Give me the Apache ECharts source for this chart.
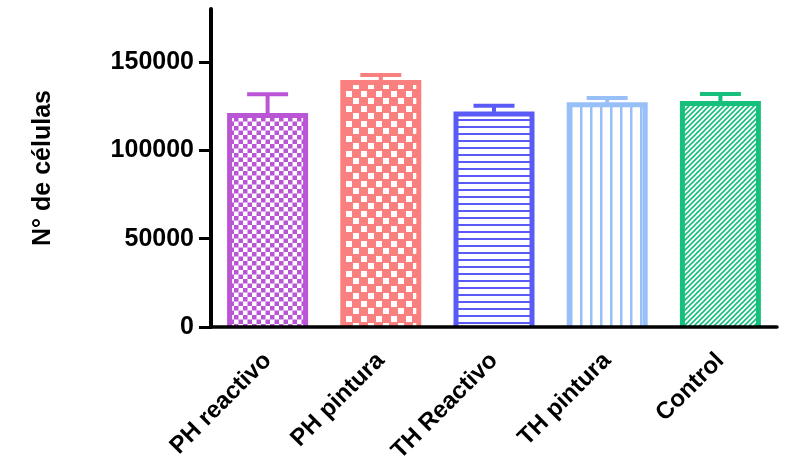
<!DOCTYPE html>
<html>
<head>
<meta charset="utf-8">
<script src="https://cdn.jsdelivr.net/npm/echarts@6/dist/echarts.min.js"></script>
<style>
  html, body { margin: 0; padding: 0; background: #fff; }
  #chart { width: 790px; height: 458px; }
</style>
</head>
<body>
<div id="chart"></div>
<script>
// Cell counts per treatment group (mean and upper SD)
const categories = ['PH reactivo', 'PH pintura', 'TH Reactivo', 'TH pintura', 'Control'];
const means = [119700, 138400, 120600, 125800, 126500];
const errors = [12100, 4300, 4600, 3800, 5400];
const yTicks = [0, 50000, 100000, 150000];
const colors = ['#BA55D6', '#FA7F7F', '#5A5AF8', '#98C0F8', '#17BF7C'];

const FONT = '"Liberation Sans", Arial, sans-serif';
const BAR_W = 76;

// Small tiles used as repeating fill patterns for the bars
function tile(w, h, draw) {
  const c = document.createElement('canvas');
  c.width = w; c.height = h;
  const ctx = c.getContext('2d');
  ctx.fillStyle = '#ffffff';
  ctx.fillRect(0, 0, w, h);
  draw(ctx);
  return c;
}

const patterns = [
  // fine checkerboard
  tile(9, 9, ctx => {
    ctx.fillStyle = colors[0];
    ctx.fillRect(0, 0, 4.5, 4.5);
    ctx.fillRect(4.5, 4.5, 4.5, 4.5);
  }),
  // coarse checkerboard (coloured ground, white squares)
  tile(15, 15, ctx => {
    ctx.fillStyle = colors[1];
    ctx.fillRect(0, 0, 15, 15);
    ctx.fillStyle = '#ffffff';
    ctx.fillRect(1, 1, 6, 6);
    ctx.fillRect(8, 8, 6, 6);
  }),
  // horizontal lines
  tile(7, 7, ctx => {
    ctx.fillStyle = colors[2];
    ctx.fillRect(0, 0, 7, 2);
  }),
  // vertical lines
  tile(10, 10, ctx => {
    ctx.fillStyle = colors[3];
    ctx.fillRect(0, 0, 2.5, 10);
  }),
  // diagonal hatch
  tile(5, 5, ctx => {
    ctx.strokeStyle = colors[4];
    ctx.lineWidth = 1.6;
    ctx.beginPath();
    ctx.moveTo(-1, 6); ctx.lineTo(6, -1);
    ctx.moveTo(-1, 1); ctx.lineTo(1, -1);
    ctx.moveTo(4, 6); ctx.lineTo(6, 4);
    ctx.stroke();
  })
];

const barData = means.map((v, i) => ({
  value: v,
  itemStyle: { color: { image: patterns[i], repeat: 'repeat' } }
}));

const errData = means.map((v, i) => [i, v, v + errors[i]]);

const chart = echarts.init(document.getElementById('chart'), null, { renderer: 'canvas' });

chart.setOption({
  animation: false,
  backgroundColor: '#ffffff',
  grid: { left: 211, right: 13, top: 9, bottom: 131, containLabel: false, outerBoundsMode: 'none' },
  xAxis: {
    type: 'category',
    data: categories,
    z: 5,
    axisLine: { lineStyle: { color: '#000', width: 3.5 } },
    axisTick: { alignWithLabel: true, length: 10, lineStyle: { color: '#000', width: 3 } },
    axisLabel: {
      rotate: 45,
      margin: 30,
      color: '#000',
      fontFamily: FONT,
      fontWeight: 'bold',
      fontSize: 24
    },
    splitLine: { show: false }
  },
  yAxis: {
    type: 'value',
    min: 0,
    max: 180000,
    interval: 50000,
    z: 5,
    name: 'N° de células',
    nameLocation: 'middle',
    nameRotate: 90,
    nameGap: 155,
    nameTextStyle: { color: '#000', fontFamily: FONT, fontWeight: 'bold', fontSize: 25 },
    axisLine: { show: true, lineStyle: { color: '#000', width: 4 } },
    axisTick: { show: true, length: 12, customValues: yTicks, lineStyle: { color: '#000', width: 3 } },
    axisLabel: {
      customValues: yTicks,
      formatter: v => String(v),
      margin: 17,
      color: '#000',
      fontFamily: FONT,
      fontWeight: 'bold',
      fontSize: 25
    },
    splitLine: { show: false }
  },
  series: [
    {
      type: 'bar',
      data: barData,
      barWidth: BAR_W,
      z: 2
    },
    {
      // open outline (left, top, right) of each bar plus its upper error bar
      type: 'custom',
      z: 3,
      data: errData,
      renderItem: function (params, api) {
        const i = api.value(0);
        const zero = api.coord([i, 0]);
        const base = api.coord([i, api.value(1)]);
        const top = api.coord([i, api.value(2)]);
        const h = BAR_W / 2;
        const style = { stroke: colors[i], lineWidth: 4, fill: null };
        return {
          type: 'group',
          children: [
            {
              type: 'polyline',
              shape: { points: [[base[0] - h, zero[1]], [base[0] - h, base[1]], [base[0] + h, base[1]], [base[0] + h, zero[1]]] },
              style: { stroke: colors[i], lineWidth: 5, fill: null, lineJoin: 'miter' }
            },
            { type: 'line', shape: { x1: base[0], y1: base[1] - 2, x2: top[0], y2: top[1] }, style: style },
            { type: 'line', shape: { x1: top[0] - 20.5, y1: top[1], x2: top[0] + 20.5, y2: top[1] }, style: style }
          ]
        };
      }
    }
  ]
});
</script>
</body>
</html>
